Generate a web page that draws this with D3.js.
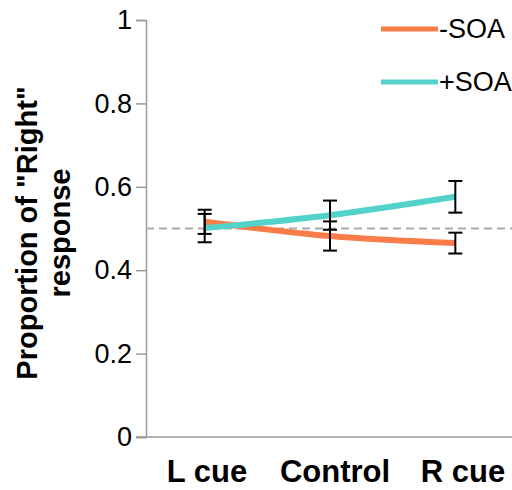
<!DOCTYPE html>
<html>
<head>
<meta charset="utf-8">
<script src="https://cdn.jsdelivr.net/npm/d3@7"></script>
<style>
  body { margin: 0; background: #fff; }
  text { font-family: Arial, "Liberation Sans", sans-serif; }
</style>
</head>
<body>
<svg id="main" width="512" height="490"></svg>
<script>
const categories = ["L cue", "Control", "R cue"];
const seriesNames = ["-SOA", "+SOA"];
const minusSOA = [0.516, 0.482, 0.465];
const minusSOAErr = [0.029, 0.035, 0.025];
const plusSOA = [0.501, 0.532, 0.576];
const plusSOAErr = [0.034, 0.035, 0.038];
const yTicks = [0, 0.2, 0.4, 0.6, 0.8, 1];
const chance = 0.5;

const colors = {"-SOA": "#f97c4a", "+SOA": "#52d2c8"};

const series = [
    {name: "-SOA", values: minusSOA, err: minusSOAErr},
    {name: "+SOA", values: plusSOA, err: plusSOAErr}
];

const svg = d3.select("#main");

const xScale = d3.scalePoint(categories, [142, 518]).padding(0.5);
// labels sit a bit right of the points in the original
const labelScale = d3.scalePoint(categories, [143, 527]).padding(0.5);
const yScale = d3.scaleLinear([0, 1], [437, 20]);

// y axis
const yAxis = svg.append("g")
    .attr("transform", "translate(146,0)")
    .call(d3.axisLeft(yScale).tickValues(yTicks).tickSize(10).tickPadding(4)
        .tickFormat(d => d === 0 || d === 1 ? d3.format("d")(d) : d3.format(".1f")(d)));
yAxis.selectAll("path, line").attr("stroke", "#9a9a9a").attr("stroke-width", 1.5);
yAxis.selectAll("text").attr("font-size", 27).attr("fill", "#000");

// x axis line
svg.append("line")
    .attr("x1", 136).attr("x2", 512)
    .attr("y1", yScale(0)).attr("y2", yScale(0))
    .attr("stroke", "#9a9a9a").attr("stroke-width", 1.5);

svg.append("g").selectAll("text")
    .data(categories)
    .join("text")
    .attr("x", d => labelScale(d))
    .attr("y", 482)
    .attr("text-anchor", "middle")
    .attr("font-size", 31)
    .attr("font-weight", "bold")
    .text(d => d);

// chance line
svg.append("line")
    .attr("x1", 146).attr("x2", 512)
    .attr("y1", yScale(chance)).attr("y2", yScale(chance))
    .attr("stroke", "#aaaaaa").attr("stroke-width", 2)
    .attr("stroke-dasharray", "8,5");

// lines
const line = d3.line()
    .x((d, i) => xScale(categories[i]))
    .y(d => yScale(d))
    .curve(d3.curveCatmullRom.alpha(0.5));

svg.append("g").selectAll("path")
    .data(series)
    .join("path")
    .attr("d", s => line(s.values))
    .attr("fill", "none")
    .attr("stroke", s => colors[s.name])
    .attr("stroke-width", 6);

// error bars
const bars = series.flatMap(s => s.values.map((v, i) => ({cat: categories[i], v: v, e: s.err[i]})));
const eb = svg.append("g").attr("stroke", "#000").attr("stroke-width", 2);
eb.selectAll("line.v").data(bars).join("line").attr("class", "v")
    .attr("x1", d => xScale(d.cat)).attr("x2", d => xScale(d.cat))
    .attr("y1", d => yScale(d.v - d.e)).attr("y2", d => yScale(d.v + d.e));
eb.selectAll("line.t").data(bars).join("line").attr("class", "t")
    .attr("x1", d => xScale(d.cat) - 7).attr("x2", d => xScale(d.cat) + 7)
    .attr("y1", d => yScale(d.v + d.e)).attr("y2", d => yScale(d.v + d.e));
eb.selectAll("line.b").data(bars).join("line").attr("class", "b")
    .attr("x1", d => xScale(d.cat) - 7).attr("x2", d => xScale(d.cat) + 7)
    .attr("y1", d => yScale(d.v - d.e)).attr("y2", d => yScale(d.v - d.e));

// y title
const yTitle = svg.append("text")
    .attr("transform", "translate(0,233) rotate(-90)")
    .attr("text-anchor", "middle")
    .attr("font-size", 29)
    .attr("font-weight", "bold");
yTitle.append("tspan").attr("x", 0).attr("y", 37).text('Proportion of "Right"');
yTitle.append("tspan").attr("x", 0).attr("y", 70).text("response");

// legend
const legend = svg.append("g").selectAll("g")
    .data(seriesNames)
    .join("g")
    .attr("transform", (d, i) => `translate(381,${29 + i * 53})`);
legend.append("line")
    .attr("x1", 0).attr("x2", 57)
    .attr("stroke", d => colors[d]).attr("stroke-width", 5);
legend.append("text")
    .attr("x", 58).attr("y", 9)
    .attr("font-size", 27)
    .text(d => d);
</script>
</body>
</html>
